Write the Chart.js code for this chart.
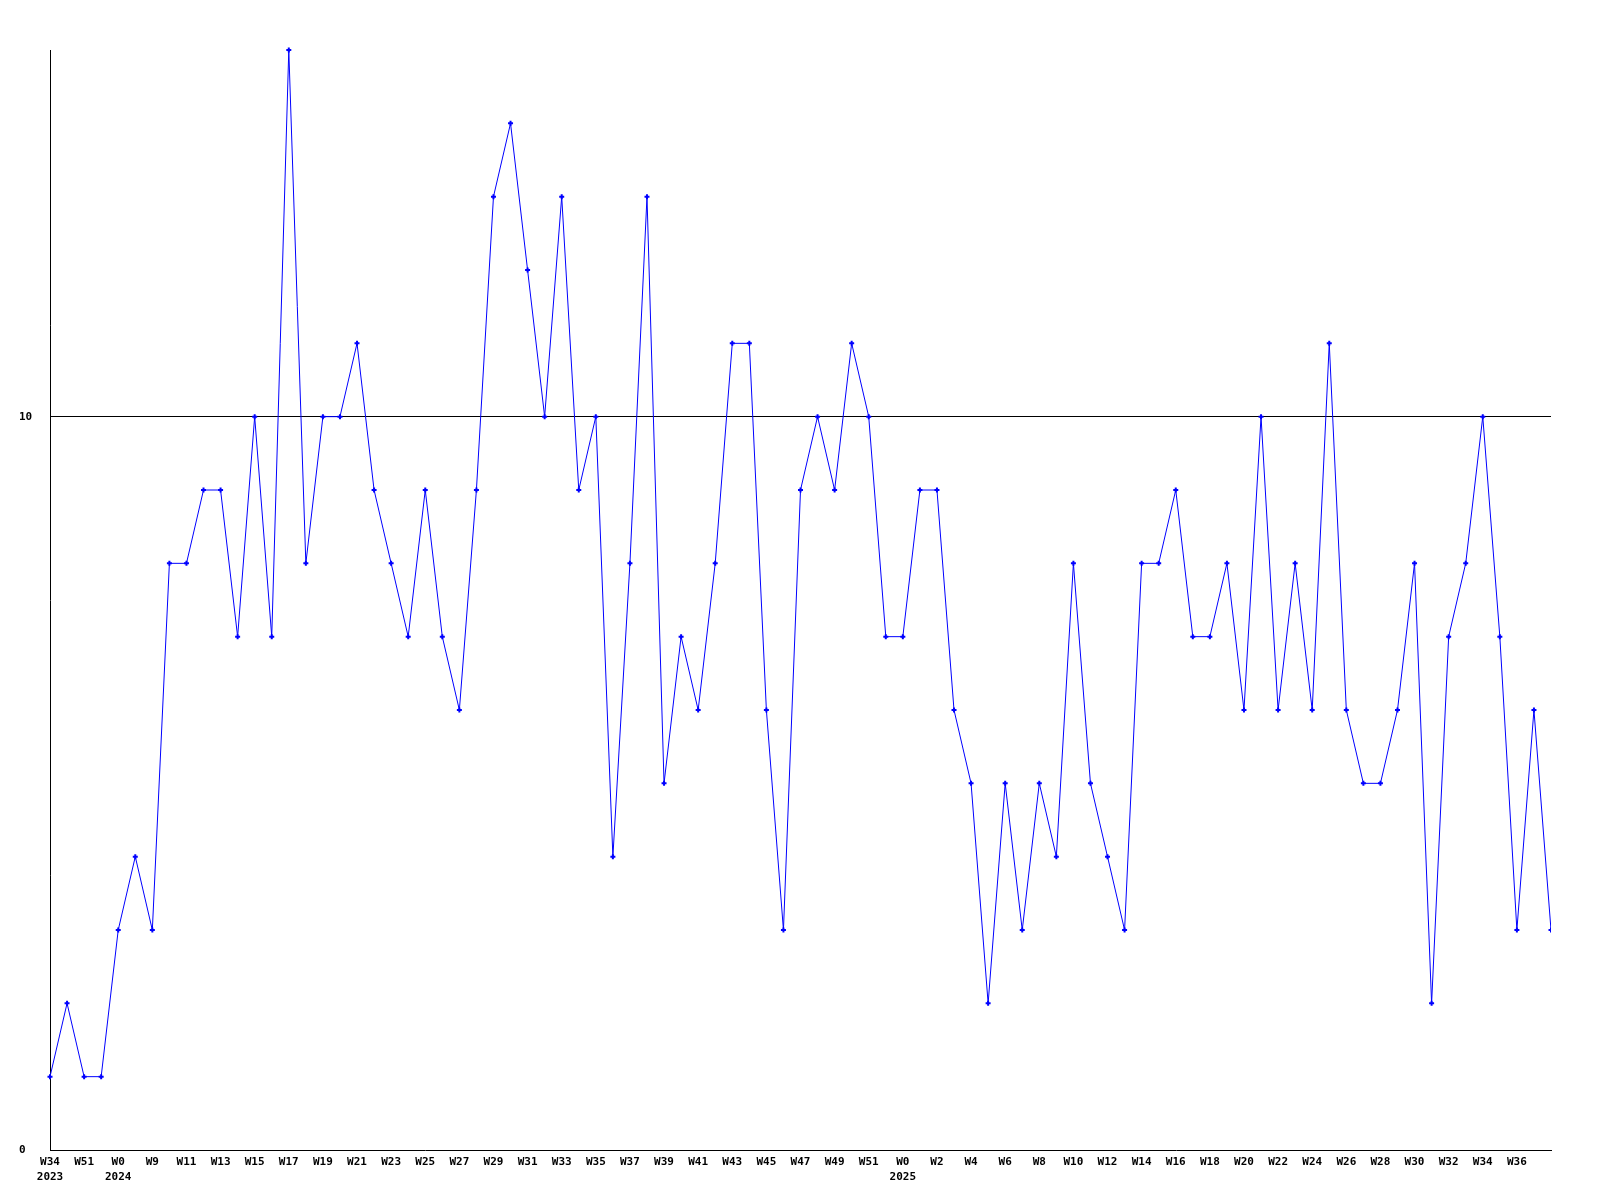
<!DOCTYPE html>
<html>
<head>
<meta charset="utf-8">
<script src="https://cdn.jsdelivr.net/npm/chart.js@4/dist/chart.umd.min.js"></script>
<style>
  html, body { margin: 0; background: #fff; }
  #wrap { width: 1600px; height: 1200px; }
</style>
</head>
<body>
<div id="wrap"><canvas id="weekChart"></canvas></div>
<script>
// week labels, one per point (only every other one is printed)
const weeks = [
    'W34', 'W35', 'W51', 'W52', 'W0', 'W8',
    'W9', 'W10', 'W11', 'W12', 'W13', 'W14', 'W15', 'W16', 'W17', 'W18', 'W19', 'W20',
    'W21', 'W22', 'W23', 'W24', 'W25', 'W26', 'W27', 'W28', 'W29', 'W30', 'W31', 'W32',
    'W33', 'W34', 'W35', 'W36', 'W37', 'W38', 'W39', 'W40', 'W41', 'W42', 'W43', 'W44',
    'W45', 'W46', 'W47', 'W48', 'W49', 'W50', 'W51', 'W52',
    'W0', 'W1', 'W2', 'W3', 'W4', 'W5', 'W6', 'W7', 'W8', 'W9', 'W10', 'W11', 'W12',
    'W13', 'W14', 'W15', 'W16', 'W17', 'W18', 'W19', 'W20', 'W21', 'W22', 'W23', 'W24',
    'W25', 'W26', 'W27', 'W28', 'W29', 'W30', 'W31', 'W32', 'W33', 'W34', 'W35', 'W36',
    'W37', 'W38'
];
const yearStarts = [0, 4, 50];
const years = ['2023', '2024', '2025'];

const counts = [
    1, 2, 1, 1, 3, 4, 3, 8, 8, 9,
    9, 7, 10, 7, 15, 8, 10, 10, 11, 9,
    8, 7, 9, 7, 6, 9, 13, 14, 12, 10,
    13, 9, 10, 4, 8, 13, 5, 7, 6, 8,
    11, 11, 6, 3, 9, 10, 9, 11, 10, 7,
    7, 9, 9, 6, 5, 2, 5, 3, 5, 4,
    8, 5, 4, 3, 8, 8, 9, 7, 7, 8,
    6, 10, 6, 8, 6, 11, 6, 5, 5, 6,
    8, 2, 7, 8, 10, 7, 3, 6, 3
];

const labels = weeks.map((w, i) => {
    const y = yearStarts.indexOf(i);
    return y >= 0 ? [w, years[y]] : w;
});

const tickFont = { family: '"DejaVu Sans Mono", monospace', size: 11, weight: 'bold', lineHeight: 1.35 };

const weekCtx = document.getElementById('weekChart').getContext('2d');
const weekChart = new Chart(weekCtx, {
    type: 'line',
    data: {
        labels: labels,
        datasets: [{
            data: counts,
            borderColor: '#0000ff',
            borderWidth: 1,
            tension: 0,
            fill: false,
            pointStyle: 'cross',
            pointRadius: 2.5,
            pointBorderWidth: 2,
            pointBorderColor: '#0000ff',
            clip: { left: 5, top: 5, right: 0, bottom: 5 },
        }]
    },
    options: {
        responsive: true,
        maintainAspectRatio: false,
        animation: false,
        layout: { padding: { left: 19, right: 49, top: 50, bottom: 0 } },
        plugins: {
            legend: { display: false },
            tooltip: { enabled: false },
        },
        scales: {
            x: {
                offset: false,
                grid: { display: false, drawTicks: false },
                border: { color: '#000', width: 1 },
                ticks: {
                    autoSkip: false,
                    maxRotation: 0,
                    padding: 5,
                    color: '#000',
                    font: tickFont,
                    // every other week, last one left off like the original
                    callback: function (v, i) {
                        if (i % 2 !== 0 || i === weeks.length - 1) return '';
                        return this.getLabelForValue(v);
                    },
                },
                afterFit: (s) => { s.height = 50; },
            },
            y: {
                min: 0,
                max: 15,
                grid: {
                    drawTicks: false,
                    color: (c) => (c.tick && c.tick.value === 10 ? '#000' : 'rgba(0,0,0,0)'),
                },
                border: { color: '#000', width: 1 },
                ticks: {
                    stepSize: 10,
                    crossAlign: 'far',
                    color: '#000',
                    font: tickFont,
                    callback: (v) => (v % 10 === 0 ? v : null),
                },
                afterFit: (s) => { s.width = 31; },
            },
        },
    },
});
</script>
</body>
</html>
